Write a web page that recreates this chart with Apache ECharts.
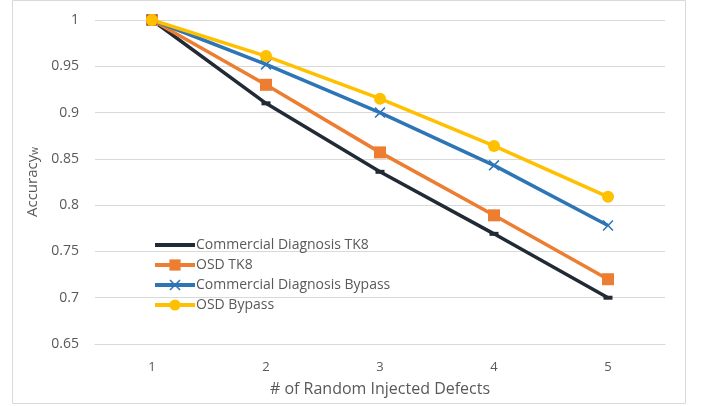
<!DOCTYPE html>
<html>
<head>
<meta charset="utf-8">
<script src="https://cdn.jsdelivr.net/npm/echarts@6/dist/echarts.min.js"></script>
<style>html,body{margin:0;padding:0;background:#fff}#c{width:702px;height:406px}</style>
</head>
<body>
<div id="c"></div>
<script>
const categories = ['1', '2', '3', '4', '5'];
const commercialTK8 = [1, 0.910, 0.836, 0.769, 0.700];
const osdTK8 = [1, 0.930, 0.857, 0.789, 0.720];
const commercialBypass = [1, 0.952, 0.900, 0.843, 0.778];
const osdBypass = [1, 0.961, 0.915, 0.864, 0.809];
const yTicks = { min: 0.65, max: 1, interval: 0.05 };

const FONT = 'Open Sans';
const TXT = '#595959';
const crossPath = 'path://M0,1L1,0L5,4L9,0L10,1L6,5L10,9L9,10L5,6L1,10L0,9L4,5Z';

const chart = echarts.init(document.getElementById('c'));
function mk(name, data, color, symbol, size) {
  return {
    name, type: 'line', data,
    symbol, symbolSize: size, showSymbol: true,
    lineStyle: { color, width: 3.5 },
    itemStyle: { color, borderWidth: 0 },
    emphasis: { disabled: true },
    animation: false
  };
}
chart.setOption({
  backgroundColor: '#fff',
  textStyle: { fontFamily: FONT },
  graphic: [{
    type: 'rect', shape: { x: 12.5, y: 0.5, width: 673, height: 403 },
    style: { fill: 'none', stroke: '#d9d9d9', lineWidth: 1 }, silent: true
  }],
  grid: { left: 95, right: 37, top: 20, bottom: 62 },
  legend: {
    orient: 'vertical', left: 148, top: 233, itemGap: 6,
    itemWidth: 40, itemHeight: 14,
    lineStyle: { width: 4 },
    textStyle: { color: TXT, fontSize: 14, fontFamily: FONT, padding: [0, 0, 0, -4] },
    data: [
      { name: 'Commercial Diagnosis TK8', itemStyle: { opacity: 0 } },
      'OSD TK8', 'Commercial Diagnosis Bypass', 'OSD Bypass'
    ]
  },
  xAxis: {
    type: 'category', data: categories, boundaryGap: true,
    name: '# of Random Injected Defects', nameLocation: 'middle', nameGap: 37,
    nameTextStyle: { color: TXT, fontSize: 16, fontFamily: FONT },
    axisLine: { show: true, lineStyle: { color: '#d9d9d9', width: 1 } },
    axisTick: { show: false },
    axisLabel: { color: TXT, fontSize: 13, margin: 17, fontFamily: FONT }
  },
  yAxis: {
    type: 'value', min: yTicks.min, max: yTicks.max, interval: yTicks.interval,
    name: 'Accuracy{s|w}', nameLocation: 'middle', nameGap: 53, nameRotate: 90,
    nameTextStyle: { color: TXT, fontSize: 15, fontFamily: FONT,
      rich: { s: { fontSize: 10, color: TXT, verticalAlign: 'bottom', padding: [6, 0, 0, 0], fontFamily: FONT } } },
    axisLine: { show: false }, axisTick: { show: false },
    splitLine: { lineStyle: { color: '#d9d9d9', width: 1 } },
    axisLabel: { color: TXT, fontSize: 14, margin: 16, fontFamily: FONT,
      formatter: v => String(parseFloat(v.toFixed(2))) }
  },
  series: [
    mk('Commercial Diagnosis TK8', commercialTK8, '#222a35', 'rect', [9, 4]),
    mk('OSD TK8', osdTK8, '#ed7d31', 'rect', 12),
    mk('Commercial Diagnosis Bypass', commercialBypass, '#2e75b6', crossPath, 11),
    mk('OSD Bypass', osdBypass, '#ffc000', 'circle', 12)
  ]
});
</script>
</body>
</html>
